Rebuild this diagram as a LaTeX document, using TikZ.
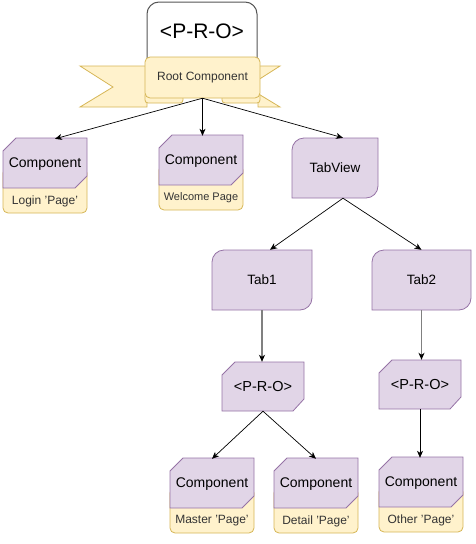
\documentclass[tikz,border=0pt]{standalone}
\usepackage{fontspec}
\setmainfont{Liberation Sans}
\usetikzlibrary{arrows.meta}
\definecolor{compfill}{HTML}{E1D5E7}
\definecolor{compline}{HTML}{9673A6}
\definecolor{pagefill}{HTML}{FFF2CC}
\definecolor{pageline}{HTML}{D6B656}
\definecolor{textgray}{HTML}{333333}
\definecolor{boxline}{HTML}{555555}
\tikzset{
  comp/.style={fill=compfill, draw=compline, line width=0.8pt},
  page/.style={fill=pagefill, draw=pageline, line width=0.8pt},
  hit/.style 2 args={minimum width=(#1)*1pt, minimum height=(#2)*1pt, inner sep=0pt},
  link/.style={-{Stealth[length=7pt,width=6pt,inset=2pt]}, line width=0.7pt},
  graylink/.style={-{Stealth[length=7pt,width=6pt,inset=2pt,color=black]}, draw=gray, line width=1.1pt},
  comptext/.style={font=\fontsize{14}{16}\selectfont},
  pagetext/.style={font=\fontsize{12}{14}\selectfont, text=textgray}
}
\begin{document}
\begin{tikzpicture}[x=1pt,y=-1pt]
\useasboundingbox (0,0) rectangle (475,544);
% root: the top box and the banner
\filldraw[fill=white, draw=boxline, line width=1pt, rounded corners=12pt] (147,2) rectangle (257,95);
\node (pro) at (202,31) [font=\fontsize{21}{24}\selectfont] {<P-R-O>};
\filldraw[page] (80,66) -- (147,66) -- (147,107) -- (80,107) -- (113,87) -- cycle;
\filldraw[page] (280,66) -- (258,66) -- (258,107) -- (280,107) -- (247,87) -- cycle;
\filldraw[page, rounded corners=3pt] (145,92) rectangle (183,103);
\filldraw[page, rounded corners=3pt] (222,92) rectangle (260,103);
\filldraw[page, rounded corners=5pt] (145,57) rectangle (260,98);
\node (root) at (202.5,77.5) [hit={115}{41}, pagetext] {Root Component};
% tabs
\foreach \n/\l/\t/\r/\txt in {tabview/292/138/378/TabView, tab1/212/250/312/Tab1, tab2/372/250/471/Tab2}{
  \filldraw[comp] (\l,\t+60) -- (\l,\t+12) .. controls (\l,\t+5.4) and (\l+5.4,\t) .. (\l+12,\t) -- (\r,\t)
    -- (\r,\t+48) .. controls (\r,\t+54.6) and (\r-5.4,\t+60) .. (\r-12,\t+60) -- cycle;
  \node (\n) at ({(\l+\r)/2},\t+30) [hit={\r-\l}{60}, font=\fontsize{13.5}{16}\selectfont] {\txt};
}
% routers
\foreach \n/\l/\t in {pro1/222/362, pro2/379/360}{
  \filldraw[comp] (\l,\t+13) -- (\l+13,\t) -- (\l+82,\t) -- (\l+82,\t+37) -- (\l+71,\t+49) -- (\l,\t+49) -- cycle;
  \node (\n) at (\l+41,\t+24.5) [hit={82}{49}, font=\fontsize{14.5}{17}\selectfont] {<P-R-O>};
}
% components with their pages
\foreach \n/\l/\t/\sub in {login/3/138/Login 'Page', welcome/159/135/{\fontsize{11}{13}\selectfont Welcome Page},
    master/170/458/Master 'Page', detail/274/458/Detail 'Page', other/379/457/Other 'Page'}{
  \filldraw[page, rounded corners=5pt] (\l,\t+30) rectangle (\l+84,\t+75);
  \filldraw[comp] (\l,\t+13) -- (\l+13,\t) -- (\l+84,\t) -- (\l+84,\t+38) -- (\l+72,\t+50) -- (\l,\t+50) -- cycle;
  \node (\n) at (\l+42,\t+26) [hit={84}{50}, comptext] {Component};
  \node (\n-sub) at (\l+42,\t+63) [pagetext] {\sub};
}
% connectors
\draw[link] (root.south) -- ([xshift=10pt]login.north);
\draw[link] (root.south) -- (root.south |- welcome.north);
\draw[link] (root.south) -- ([xshift=8pt]tabview.north);
\draw[link] ([xshift=8pt]tabview.south) -- ([xshift=8pt]tab1.north);
\draw[link] ([xshift=8pt]tabview.south) -- (tab2.north);
\draw[graylink] (tab1.south) -- (tab1.south |- pro1.north);
\draw[graylink] (tab2.south) -- (tab2.south |- pro2.north);
\draw[link] (pro1.south) -- (master.north);
\draw[link] (pro1.south) -- (detail.north);
\draw[link] (pro2.south) -- (pro2.south |- other.north);
\end{tikzpicture}
\end{document}
